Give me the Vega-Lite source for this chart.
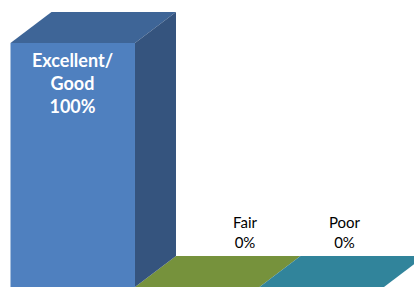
{
  "$schema": "https://vega.github.io/schema/vega-lite/v6.json",
  "width": 414,
  "height": 287,
  "autosize": "none",
  "padding": 0,
  "background": "white",
  "config": {"view": {"stroke": null}},
  "data": {"values": [
    {"name": "Excellent/Good", "value": 100, "idx": 0},
    {"name": "Fair", "value": 0, "idx": 1},
    {"name": "Poor", "value": 0, "idx": 2}
  ]},
  "transform": [
    {"calculate": "[0, 1]", "as": "d"},
    {"flatten": ["d"]},
    {"calculate": "datum.idx + datum.d * 0.3293", "as": "x0"},
    {"calculate": "datum.idx + 1 + datum.d * 0.3293", "as": "x1"},
    {"calculate": "datum.value + datum.d * 12.7", "as": "yt"},
    {"calculate": "datum.d * 12.7", "as": "yb"},
    {"calculate": "replace(datum.name, '/', '/\\n') + '\\n' + datum.value + '%'", "as": "lbl"}
  ],
  "layer": [
    {
      "mark": {"type": "area", "orient": "horizontal"},
      "encoding": {
        "y": {"field": "yt", "type": "quantitative", "scale": {"domain": [0, 117.62], "nice": false, "zero": false}, "axis": null},
        "x": {"field": "x0", "type": "quantitative", "scale": {"domain": [-0.0843, 3.241], "nice": false, "zero": false}, "axis": null},
        "x2": {"field": "x1"},
        "detail": {"field": "name"},
        "color": {"field": "name", "type": "nominal", "legend": null,
          "scale": {"domain": ["Excellent/Good", "Fair", "Poor"], "range": ["#3E6597", "#76923C", "#31849B"]}}
      }
    },
    {
      "transform": [{"filter": "datum.value > 0"}],
      "mark": {"type": "area", "orient": "vertical", "color": "#35547E"},
      "encoding": {
        "x": {"field": "x1", "type": "quantitative"},
        "y": {"field": "yt", "type": "quantitative"},
        "y2": {"field": "yb"},
        "detail": {"field": "name"}
      }
    },
    {
      "transform": [{"filter": "datum.value > 0 && datum.d == 0"}],
      "mark": {"type": "rect", "color": "#4F80BF"},
      "encoding": {
        "x": {"field": "x0", "type": "quantitative"},
        "x2": {"field": "x1"},
        "y": {"field": "value", "type": "quantitative"},
        "y2": {"field": "yb"}
      }
    },
    {
      "transform": [{"filter": "datum.value > 0 && datum.d == 0"}],
      "mark": {"type": "text", "color": "white", "font": "Lato", "fontWeight": "bold", "fontSize": 18, "lineHeight": 23, "baseline": "middle", "align": "center", "dx": 62, "dy": 19, "lineBreak": "\n"},
      "encoding": {
        "x": {"field": "x0", "type": "quantitative"},
        "y": {"field": "value", "type": "quantitative"},
        "text": {"field": "lbl"}
      }
    },
    {
      "transform": [{"filter": "datum.name == 'Fair' && datum.d == 0"}],
      "mark": {"type": "text", "color": "black", "font": "Lato", "fontSize": 15, "lineHeight": 20, "baseline": "middle", "align": "center", "dx": 110, "dy": -64, "lineBreak": "\n"},
      "encoding": {
        "x": {"field": "x0", "type": "quantitative"},
        "y": {"field": "value", "type": "quantitative"},
        "text": {"field": "lbl"}
      }
    },
    {
      "transform": [{"filter": "datum.name == 'Poor' && datum.d == 0"}],
      "mark": {"type": "text", "color": "black", "font": "Lato", "fontSize": 15, "lineHeight": 20, "baseline": "middle", "align": "center", "dx": 85, "dy": -64, "lineBreak": "\n"},
      "encoding": {
        "x": {"field": "x0", "type": "quantitative"},
        "y": {"field": "value", "type": "quantitative"},
        "text": {"field": "lbl"}
      }
    }
  ]
}
